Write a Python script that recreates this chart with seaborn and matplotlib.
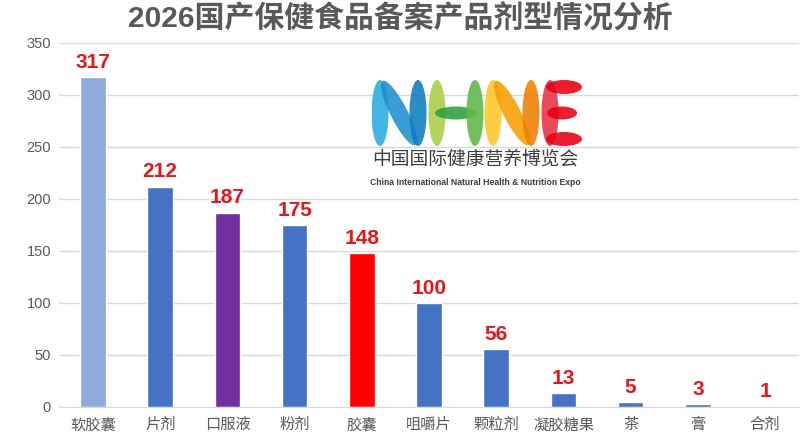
import numpy as np
import pandas as pd
import seaborn as sns
import matplotlib.pyplot as plt
from matplotlib.patches import Ellipse

categories = ['软胶囊', '片剂', '口服液', '粉剂', '胶囊', '咀嚼片', '颗粒剂', '凝胶糖果', '茶', '膏', '合剂']
counts = [317, 212, 187, 175, 148, 100, 56, 13, 5, 3, 1]
bar_colors = ['#8EA9DB', '#4472C4', '#7030A0', '#4472C4', '#FF0000', '#4472C4',
              '#4472C4', '#4472C4', '#4472C4', '#4472C4', '#4472C4']
y_ticks = [0, 50, 100, 150, 200, 250, 300, 350]

sns.set_style('white')
plt.rcParams['font.family'] = ['Liberation Sans', 'Noto Sans CJK SC', 'DejaVu Sans']

df = pd.DataFrame({'type': categories, 'count': counts})

fig = plt.figure(figsize=(8, 4.45), dpi=100)
ax = fig.add_axes([0.0743, 0.0854, 0.924, 0.818])

sns.barplot(data=df, x='type', y='count', hue='type', palette=bar_colors,
            legend=False, width=0.38, saturation=1, ax=ax)

ax.set_ylim(0, 350)
ax.set_xlim(-0.5, len(categories) - 0.5)
ax.set_yticks(y_ticks)
ax.yaxis.grid(True, color='#D9D9D9', linewidth=1)
ax.set_axisbelow(True)
ax.set_xlabel('')
ax.set_ylabel('')
for s in ['left', 'right', 'top']:
    ax.spines[s].set_visible(False)
ax.spines['bottom'].set_color('#D9D9D9')
ax.tick_params(axis='y', length=0, labelsize=10.5, labelcolor='#595959', pad=6)
ax.tick_params(axis='x', which='major', length=0, labelsize=11, labelcolor='#595959', pad=8)
ax.set_xticks(np.arange(-0.5, len(categories), 1.0), minor=True)
ax.tick_params(axis='x', which='minor', length=5, color='#D9D9D9', width=1)

for i, v in enumerate(counts):
    ax.text(i, v + 5, str(v), ha='center', va='bottom', color='#E8161B',
            fontsize=15, fontweight='bold')

fig.text(0.5, 1 - 19 / 445, '2026国产保健食品备案产品剂型情况分析', ha='center', va='center',
         fontsize=21.5, fontweight='bold', color='#595959')

# logo
lg = fig.add_axes([372 / 800, 1 - 147 / 445, 210 / 800, 68 / 445])
lg.set_xlim(0, 210)
lg.set_ylim(0, 68)
lg.axis('off')

def stroke(x, y, w, h, ang, c):
    lg.add_patch(Ellipse((x, y), w, h, angle=ang, color=c, alpha=0.88, lw=0))

# N
stroke(8, 34, 17, 66, 0, '#29ABE2')
stroke(27, 34, 17, 72, 27, '#1E8FD0')
stroke(46, 34, 17, 66, 0, '#0B7BC1')
# H
stroke(65, 34, 17, 66, 0, '#A8CF45')
stroke(84, 34, 42, 13, 0, '#2E9E3A')
stroke(103, 34, 17, 66, 0, '#5DB847')
# N
stroke(121, 34, 17, 66, 0, '#FFC629')
stroke(140, 34, 17, 72, 27, '#F5A000')
stroke(159, 34, 17, 66, 0, '#EE7F00')
# E
stroke(178, 34, 17, 66, 0, '#E83040')
stroke(192, 60, 36, 14, 0, '#E60012')
stroke(190, 34, 30, 13, 0, '#E60012')
stroke(192, 8, 36, 14, 0, '#E60012')

fig.text(475 / 800, 1 - 159 / 445, '中国国际健康营养博览会', ha='center', va='center',
         fontsize=13.5, color='#3C3C3C', family=['Noto Sans CJK SC', 'DejaVu Sans'])
fig.text(475 / 800, 1 - 182 / 445, 'China International Natural Health & Nutrition Expo',
         ha='center', va='center', fontsize=6.2, color='#3C3C3C', fontweight='bold')

fig.savefig('out.png', dpi=100)
